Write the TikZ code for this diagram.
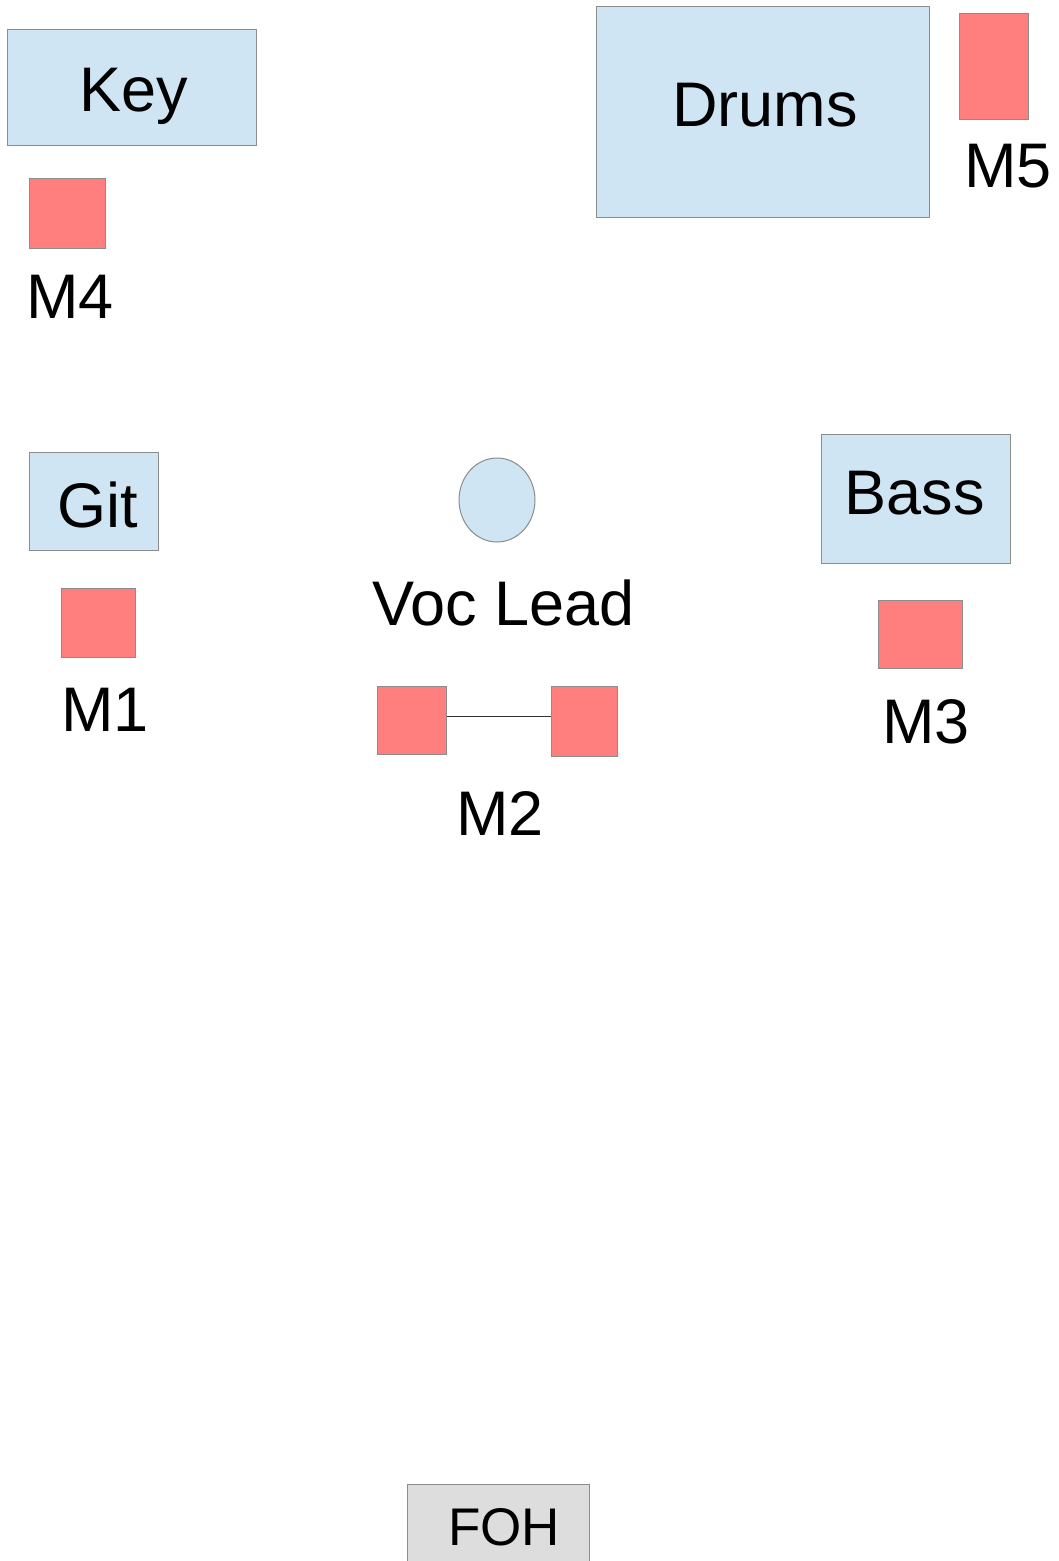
\documentclass[tikz,border=0pt]{standalone}
\usepackage{fontspec}
\setmainfont{Liberation Sans}
\usetikzlibrary{shapes.geometric}
\definecolor{stageblue}{HTML}{CFE5F3}
\definecolor{micred}{HTML}{FF7F7F}
\definecolor{fohgray}{HTML}{DDDDDD}
\definecolor{edgegray}{HTML}{8C8C8C}
\tikzset{
  inst/.style={draw=edgegray, fill=stageblue, line width=1pt, inner sep=0pt, anchor=north west},
  mic/.style={draw=edgegray, fill=micred, line width=1pt, inner sep=0pt, anchor=north west},
  fohbox/.style={draw=edgegray, fill=fohgray, line width=1pt, inner sep=0pt, anchor=north west},
  lbl/.style={inner sep=0pt, anchor=base, font=\fontsize{63}{70}\selectfont},
  smalllbl/.style={inner sep=0pt, anchor=base, font=\fontsize{53}{60}\selectfont},
  link/.style={draw=black!80, line width=1pt}
}
\begin{document}
\begin{tikzpicture}[x=1pt,y=-1pt]
\useasboundingbox[fill=white] (0,0) rectangle (1058,1561);
% instruments
\node[inst, minimum width=249pt, minimum height=116pt] (key) at (7,29) {};
\node[lbl] (keyl) at (133.5,111) {Key};
\node[inst, minimum width=333pt, minimum height=211pt] (drums) at (596,6) {};
\node[lbl] (drumsl) at (765,126) {Drums};
\node[inst, minimum width=129pt, minimum height=98pt] (git) at (29,452) {};
\node[lbl] (gitl) at (98,527) {Git};
\node[inst, minimum width=189pt, minimum height=129pt] (bass) at (821,434) {};
\node[lbl] (bassl) at (914.5,514) {Bass};
\node[draw=edgegray, fill=stageblue, line width=1pt, ellipse, inner sep=0pt, minimum width=76pt, minimum height=84pt] (voc) at (497,500) {};
\node[lbl] (vocl) at (503.5,625) {Voc Lead};
% mics
\node[mic, minimum width=76pt, minimum height=70pt] (m4) at (29,178) {};
\node[lbl] (m4l) at (70,318) {M4};
\node[mic, minimum width=69pt, minimum height=106pt] (m5) at (959,13) {};
\node[lbl] (m5l) at (1008,187) {M5};
\node[mic, minimum width=74pt, minimum height=69pt] (m1) at (61,588) {};
\node[lbl] (m1l) at (105,731) {M1};
\node[mic, minimum width=69pt, minimum height=68pt] (m2a) at (377,686) {};
\node[mic, minimum width=66pt, minimum height=70pt] (m2b) at (551,686) {};
\node[lbl] (m2l) at (500,835) {M2};
\node[mic, minimum width=84pt, minimum height=68pt] (m3) at (878,600) {};
\node[lbl] (m3l) at (926,743) {M3};
\draw[link] (m2a.east |- 0,716) -- (m2b.west |- 0,716);
% FOH
\node[fohbox, minimum width=182pt, minimum height=90pt] (foh) at (407,1484) {};
\node[smalllbl] (fohl) at (504,1545) {FOH};
\end{tikzpicture}
\end{document}
